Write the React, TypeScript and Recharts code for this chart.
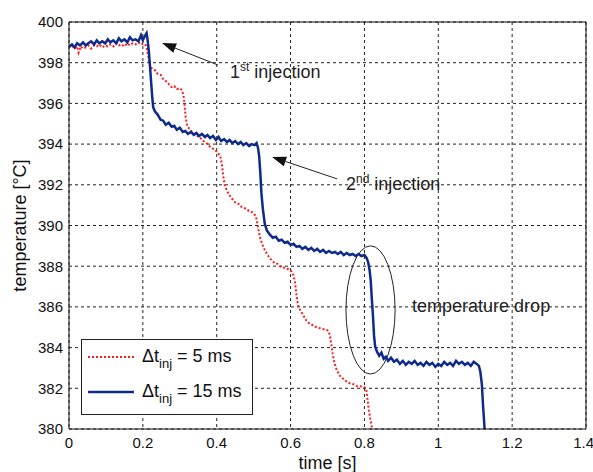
import { LineChart, Line, XAxis, YAxis, CartesianGrid, ReferenceLine, ReferenceArea, ReferenceDot, Legend } from 'recharts';

const timeTicks = [0, 0.2, 0.4, 0.6, 0.8, 1, 1.2, 1.4];
const tempTicks = [380, 382, 384, 386, 388, 390, 392, 394, 396, 398, 400];
const seriesNames = ['5 ms', '15 ms'];

// [time s, temperature °C]
const inj5ms: [number, number][] = [
  [0.000, 398.75], [0.008, 398.85], [0.015, 398.70], [0.022, 398.80], [0.026, 398.50], [0.032, 398.80],
  [0.038, 398.70], [0.045, 398.75], [0.052, 398.85], [0.060, 398.70], [0.068, 398.85], [0.075, 398.80],
  [0.082, 398.90], [0.090, 398.75], [0.098, 398.85], [0.105, 398.80], [0.112, 398.90], [0.120, 398.80],
  [0.128, 398.95], [0.135, 398.85], [0.142, 398.90], [0.150, 398.80], [0.158, 398.95], [0.165, 398.85],
  [0.172, 398.95], [0.180, 398.90], [0.188, 399.00], [0.195, 398.90], [0.202, 398.95], [0.208, 398.85],
  [0.212, 398.60], [0.216, 398.20], [0.220, 397.85], [0.225, 397.70], [0.232, 397.65], [0.240, 397.45],
  [0.248, 397.40], [0.255, 397.20], [0.262, 397.10], [0.270, 396.95], [0.278, 396.80], [0.285, 396.85],
  [0.292, 396.70], [0.300, 396.75], [0.306, 396.65], [0.310, 396.40], [0.313, 395.90], [0.316, 395.30],
  [0.320, 394.90], [0.326, 394.75], [0.333, 394.60], [0.340, 394.50], [0.348, 394.40], [0.356, 394.30],
  [0.364, 394.15], [0.372, 394.05], [0.380, 393.90], [0.388, 393.80], [0.396, 393.70], [0.404, 393.55],
  [0.410, 393.40], [0.414, 393.00], [0.418, 392.40], [0.422, 391.95], [0.428, 391.70], [0.436, 391.45],
  [0.444, 391.25], [0.452, 391.10], [0.460, 391.05], [0.468, 390.90], [0.476, 390.85], [0.484, 390.75],
  [0.492, 390.70], [0.500, 390.60], [0.506, 390.45], [0.510, 390.10], [0.514, 389.70], [0.518, 389.35],
  [0.524, 389.05], [0.530, 388.80], [0.538, 388.55], [0.546, 388.35], [0.554, 388.20], [0.562, 388.15],
  [0.570, 388.00], [0.578, 387.95], [0.586, 387.90], [0.594, 387.85], [0.602, 387.75], [0.608, 387.55],
  [0.612, 387.20], [0.616, 386.60], [0.620, 386.10], [0.626, 385.85], [0.634, 385.60], [0.642, 385.35],
  [0.650, 385.20], [0.660, 385.10], [0.670, 385.00], [0.680, 384.95], [0.690, 384.90], [0.700, 384.85],
  [0.706, 384.65], [0.710, 384.20], [0.714, 383.70], [0.718, 383.30], [0.724, 382.95], [0.732, 382.65],
  [0.740, 382.50], [0.750, 382.35], [0.760, 382.25], [0.770, 382.20], [0.780, 382.10], [0.790, 382.10],
  [0.800, 382.05], [0.805, 381.95], [0.808, 381.50], [0.812, 380.90], [0.816, 380.50], [0.820, 380.10],
  [0.823, 379.80],
];

const inj15ms: [number, number][] = [
  [0.000, 398.80], [0.008, 398.90], [0.015, 398.75], [0.022, 398.95], [0.030, 398.85], [0.038, 399.00],
  [0.045, 398.85], [0.052, 398.95], [0.060, 399.05], [0.068, 398.90], [0.075, 399.10], [0.082, 398.95],
  [0.090, 399.05], [0.098, 398.95], [0.105, 399.15], [0.112, 399.00], [0.120, 399.10], [0.128, 398.95],
  [0.135, 399.20], [0.142, 399.05], [0.150, 399.15], [0.158, 399.00], [0.165, 399.25], [0.172, 399.10],
  [0.180, 399.15], [0.188, 399.05], [0.195, 399.35], [0.200, 399.10], [0.205, 399.30], [0.210, 399.45],
  [0.213, 399.10], [0.216, 398.60], [0.219, 397.90], [0.222, 397.15], [0.225, 396.40], [0.228, 395.80],
  [0.233, 395.60], [0.240, 395.45], [0.248, 395.20], [0.255, 395.15], [0.262, 394.95], [0.270, 395.05],
  [0.278, 394.85], [0.285, 394.90], [0.292, 394.70], [0.300, 394.80], [0.308, 394.60], [0.315, 394.65],
  [0.322, 394.50], [0.330, 394.60], [0.338, 394.45], [0.345, 394.55], [0.352, 394.40], [0.360, 394.50],
  [0.368, 394.35], [0.375, 394.45], [0.382, 394.30], [0.390, 394.40], [0.398, 394.20], [0.405, 394.35],
  [0.412, 394.15], [0.420, 394.25], [0.428, 394.10], [0.435, 394.20], [0.442, 394.05], [0.450, 394.15],
  [0.458, 394.00], [0.465, 394.10], [0.472, 393.95], [0.480, 394.05], [0.488, 393.90], [0.495, 394.00],
  [0.502, 393.95], [0.508, 394.05], [0.512, 393.80], [0.515, 393.40], [0.518, 392.60], [0.521, 391.60],
  [0.525, 390.80], [0.530, 390.10], [0.536, 389.75], [0.544, 389.55], [0.552, 389.40], [0.560, 389.45],
  [0.568, 389.25], [0.576, 389.30], [0.584, 389.15], [0.592, 389.20], [0.600, 389.05], [0.608, 389.10],
  [0.616, 388.95], [0.624, 389.00], [0.632, 388.85], [0.640, 388.95], [0.648, 388.80], [0.656, 388.90],
  [0.664, 388.75], [0.672, 388.85], [0.680, 388.70], [0.688, 388.80], [0.696, 388.65], [0.704, 388.75],
  [0.712, 388.65], [0.720, 388.70], [0.728, 388.60], [0.736, 388.70], [0.744, 388.55], [0.752, 388.65],
  [0.760, 388.55], [0.768, 388.60], [0.776, 388.50], [0.784, 388.60], [0.792, 388.50], [0.800, 388.55],
  [0.806, 388.40], [0.810, 388.20], [0.814, 387.80], [0.817, 387.30], [0.820, 386.40], [0.823, 385.60],
  [0.826, 384.60], [0.829, 384.05], [0.834, 383.80], [0.840, 383.60], [0.846, 383.75], [0.852, 383.45],
  [0.858, 383.55], [0.864, 383.35], [0.872, 383.50], [0.880, 383.30], [0.888, 383.40], [0.896, 383.20],
  [0.904, 383.35], [0.912, 383.15], [0.920, 383.30], [0.928, 383.20], [0.936, 383.35], [0.944, 383.15],
  [0.952, 383.25], [0.960, 383.10], [0.968, 383.30], [0.976, 383.15], [0.984, 383.25], [0.992, 383.05],
  [1.000, 383.20], [1.008, 383.10], [1.016, 383.30], [1.024, 383.15], [1.032, 383.25], [1.040, 383.10],
  [1.048, 383.35], [1.056, 383.20], [1.064, 383.30], [1.072, 383.15], [1.080, 383.25], [1.088, 383.10],
  [1.096, 383.30], [1.104, 383.20], [1.110, 383.10], [1.114, 382.80], [1.118, 382.20], [1.121, 381.20],
  [1.124, 380.40], [1.126, 379.80],
];

// annotation anchors in data units
const arrow1 = { from: [0.403, 397.89], to: [0.252, 398.97] };
const arrow2 = { from: [0.726, 392.29], to: [0.550, 393.37] };
const dropEllipse = { t1: 0.750, t2: 0.883, temp1: 382.7, temp2: 389.0 };
const textNotes = [
  { t: 0.436, temp: 397.25, main: '1', sup: 'st', rest: ' injection' },
  { t: 0.750, temp: 391.74, main: '2', sup: 'nd', rest: ' injection' },
  { t: 0.929, temp: 385.76, main: 'temperature drop', sup: '', rest: '' },
];

const FONT = '"Liberation Sans", Arial, sans-serif';
const RED = '#ff1a1a';
const BLUE = '#0d2a8c';

const toRows = (rows: [number, number][]) => rows.map(([t, temp]) => ({ t, temp }));

function Arrow(props: any) {
  const { x1, y1, x2, y2 } = props;
  const ang = Math.atan2(y2 - y1, x2 - x1);
  const len = 14;
  const half = 5;
  const bx = x2 - len * Math.cos(ang);
  const by = y2 - len * Math.sin(ang);
  const px = -Math.sin(ang) * half;
  const py = Math.cos(ang) * half;
  return (
    <g>
      <line x1={x1} y1={y1} x2={bx} y2={by} stroke="#222" strokeWidth={1} />
      <polygon points={`${x2},${y2} ${bx + px},${by + py} ${bx - px},${by - py}`} fill="#111" />
    </g>
  );
}

function Ellipse(props: any) {
  const { x, y, width, height } = props;
  return (
    <ellipse cx={x + width / 2} cy={y + height / 2} rx={width / 2} ry={height / 2}
      fill="none" stroke="#222" strokeWidth={1} />
  );
}

function NoteText({ cx, cy, note }: any) {
  return (
    <text x={cx} y={cy} fontSize={18} fill="#222" fontFamily={FONT}>
      {note.main}
      {note.sup && <tspan dy={-7} fontSize={12}>{note.sup}</tspan>}
      {note.rest && <tspan dy={note.sup ? 7 : 0}>{note.rest}</tspan>}
    </text>
  );
}

function LegendBox({ payload }: any) {
  const items = [...(payload || [])].sort(
    (a: any, b: any) => seriesNames.indexOf(a.value) - seriesNames.indexOf(b.value)
  );
  return (
    <svg width={173} height={77} style={{ display: 'block' }}>
      <rect x={0.5} y={0.5} width={171} height={75} fill="#fff" stroke="#222" />
      {items.map((item: any, i: number) => {
        const y = 18 + i * 35;
        const dash = item.payload?.strokeDasharray;
        return (
          <g key={item.value}>
            <line x1={7} x2={53} y1={y} y2={y} stroke={item.color} strokeWidth={dash ? 2 : 2.5}
              strokeDasharray={dash} />
            <text x={61} y={y + 5} fontSize={18} fill="#111" fontFamily={FONT}>
              Δt<tspan dy={6} fontSize={13}>inj</tspan><tspan dy={-6}>{` = ${item.value}`}</tspan>
            </text>
          </g>
        );
      })}
    </svg>
  );
}

export default function App() {
  return (
    <div style={{ position: 'absolute', left: 0, top: 0, background: '#fff' }}>
      <LineChart width={593} height={472} margin={{ top: 22, right: 7, left: 0, bottom: 0 }}>
        <CartesianGrid stroke="#222" strokeDasharray="3 3" strokeWidth={1} />
        <XAxis
          dataKey="t"
          type="number"
          domain={[0, 1.4]}
          ticks={timeTicks}
          allowDataOverflow
          height={43}
          tickLine={false}
          tickSize={0}
          tickMargin={8}
          axisLine={{ stroke: '#111' }}
          tick={{ fontSize: 15, fill: '#111', fontFamily: FONT }}
          label={{ value: 'time [s]', position: 'insideBottom', offset: 3, fontSize: 18, fill: '#111', fontFamily: FONT }}
        />
        <YAxis
          type="number"
          domain={[380, 400]}
          ticks={tempTicks}
          allowDataOverflow
          width={69}
          tickLine={false}
          tickSize={0}
          tickMargin={6}
          axisLine={{ stroke: '#111' }}
          tick={{ fontSize: 15, fill: '#111', fontFamily: FONT }}
          label={{ value: 'temperature [°C]', angle: -90, position: 'insideLeft', offset: 20, fontSize: 18, fill: '#111', fontFamily: FONT, style: { textAnchor: 'middle' } }}
        />
        <ReferenceLine y={400} stroke="#111" />
        <ReferenceLine x={1.4} stroke="#111" />
        <Line
          data={toRows(inj5ms)}
          dataKey="temp"
          name={seriesNames[0]}
          stroke={RED}
          strokeWidth={2}
          strokeDasharray="2 2"
          dot={false}
          type="linear"
          isAnimationActive={false}
        />
        <Line
          data={toRows(inj15ms)}
          dataKey="temp"
          name={seriesNames[1]}
          stroke={BLUE}
          strokeWidth={2.5}
          dot={false}
          type="linear"
          isAnimationActive={false}
        />
        <ReferenceLine
          segment={[{ x: arrow1.from[0], y: arrow1.from[1] }, { x: arrow1.to[0], y: arrow1.to[1] }]}
          shape={Arrow}
        />
        <ReferenceLine
          segment={[{ x: arrow2.from[0], y: arrow2.from[1] }, { x: arrow2.to[0], y: arrow2.to[1] }]}
          shape={Arrow}
        />
        <ReferenceArea
          x1={dropEllipse.t1}
          x2={dropEllipse.t2}
          y1={dropEllipse.temp1}
          y2={dropEllipse.temp2}
          shape={Ellipse}
        />
        {textNotes.map((n, i) => (
          <ReferenceDot key={i} x={n.t} y={n.temp} r={0} shape={(p: any) => <NoteText cx={p.cx} cy={p.cy} note={n} />} />
        ))}
        <Legend
          layout="vertical"
          align="center"
          verticalAlign="middle"
          content={LegendBox}
          wrapperStyle={{ left: 81, top: 339, width: 173, height: 77 }}
        />
      </LineChart>
    </div>
  );
}
